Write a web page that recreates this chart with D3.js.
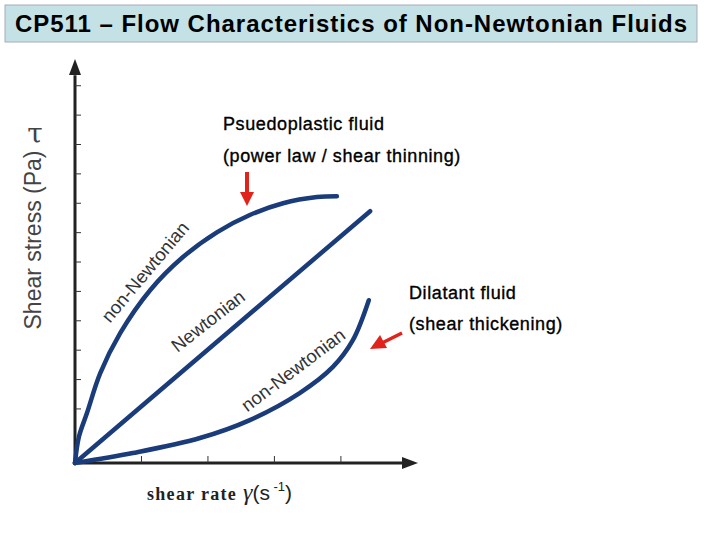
<!DOCTYPE html>
<html><head><meta charset="utf-8">
<script src="https://cdn.jsdelivr.net/npm/d3@7"></script>
<style>body{margin:0;background:#fff}svg{display:block}</style>
</head><body><svg id="c" width="720" height="540"></svg>
<script>
const pseudoplastic = [[0,0],[0.06,0.9],[0.18,1.7],[0.38,3.06],[0.68,4.42],[1.13,5.88],[1.62,7.0],[2.14,7.86],[2.63,8.44],[3.13,8.84],[3.64,9.05],[3.94,9.08]];
const newtonian = [[0,0],[4.44,8.57]];
const dilatant = [[0,0],[0.87,0.34],[1.88,0.85],[2.63,1.46],[3.38,2.38],[3.88,3.27],[4.18,4.18],[4.42,5.54]];
const xTicks = [1,2,3,4];
const yTicks = [1.84,2.84,3.84,4.84,5.84,6.84,7.84,8.84,9.84,10.84,11.84,12.84];

const svg = d3.select("#c");
const x = d3.scaleLinear().domain([0,5.16]).range([75,418]);
const y = d3.scaleLinear().domain([0,13.75]).range([463,59]);

svg.append("rect").attr("x",5).attr("y",5).attr("width",692).attr("height",37)
  .attr("fill","#c4e1e5").attr("stroke","#aab").attr("stroke-width",1);
svg.append("text").attr("x",351).attr("y",32).attr("text-anchor","middle")
  .attr("font-family","Liberation Sans, Arial").attr("font-weight","bold").attr("font-size",24)
  .attr("textLength",672).text("CP511 – Flow Characteristics of Non-Newtonian Fluids");

const ax = svg.append("g").attr("stroke","#222").attr("stroke-width",3);
ax.append("line").attr("x1",x(0)).attr("y1",y(0)).attr("x2",x(5.0)).attr("y2",y(0));
ax.append("line").attr("x1",x(0)).attr("y1",y(0)).attr("x2",x(0)).attr("y2",y(13.2));
svg.append("path").attr("d",`M${x(5.16)},${y(0)} l-16,-6 l0,12 z`).attr("fill","#222");
svg.append("path").attr("d",`M${x(0)},${y(13.75)} l-6,16 l12,0 z`).attr("fill","#222");
svg.selectAll(".xt").data(xTicks).join("line").attr("x1",d=>x(d)).attr("x2",d=>x(d))
  .attr("y1",y(0)).attr("y2",y(0)-7).attr("stroke","#333").attr("stroke-width",1);
svg.selectAll(".yt").data(yTicks).join("line").attr("y1",d=>y(d)).attr("y2",d=>y(d))
  .attr("x1",x(0)).attr("x2",x(0)+6).attr("stroke","#333").attr("stroke-width",1);

const line = d3.line().x(d=>x(d[0])).y(d=>y(d[1])).curve(d3.curveCatmullRom);
[pseudoplastic,newtonian,dilatant].forEach(s=>svg.append("path").attr("d",line(s))
  .attr("fill","none").attr("stroke","#1a3c7a").attr("stroke-width",4.5).attr("stroke-linecap","round"));

const lab = (t,px,py,a,fs)=>svg.append("text").attr("transform",`translate(${px},${py}) rotate(${a})`)
  .attr("text-anchor","middle").attr("font-family","Liberation Sans, Arial").attr("font-size",fs||18.5)
  .attr("fill","#333").text(t);
lab("non-Newtonian",150,276,-50);
lab("Newtonian",212,326,-38);
lab("non-Newtonian",297,375,-37);

svg.append("text").attr("transform","translate(41,240) rotate(-90)").attr("text-anchor","middle")
  .attr("font-family","Liberation Sans, Arial").attr("font-size",23).attr("fill","#444").text("Shear stress (Pa)");
svg.append("text").attr("x",35).attr("y",143).attr("text-anchor","middle")
  .attr("font-family","DejaVu Serif").attr("font-size",28).attr("fill","#444").text("τ");
const xl = svg.append("text").attr("x",147).attr("y",500).attr("font-size",18).attr("fill","#222");
xl.append("tspan").attr("font-family","Liberation Serif").attr("font-weight","bold").attr("letter-spacing",1.3).text("shear rate ");
xl.append("tspan").attr("font-family","Liberation Serif").attr("font-style","italic").attr("font-size",24).text("γ");
xl.append("tspan").attr("font-family","Liberation Sans").attr("font-size",21).text("(s");
xl.append("tspan").attr("font-family","Liberation Sans").attr("font-size",13).attr("dy",-9).text(" -1");
xl.append("tspan").attr("font-family","Liberation Sans").attr("font-size",21).attr("dy",9).text(")");

const ann = (t,px,py)=>svg.append("text").attr("x",px).attr("y",py).attr("font-family","Liberation Sans, Arial")
  .attr("font-size",18).attr("letter-spacing",0.6).attr("fill","#000").attr("stroke","#000").attr("stroke-width",0.35).text(t);
ann("Psuedoplastic fluid",223,130); ann("(power law / shear thinning)",223,162);
ann("Dilatant fluid",409,299); ann("(shear thickening)",409,330);

const red="#e0241c";
svg.append("line").attr("x1",247).attr("y1",172).attr("x2",247).attr("y2",194).attr("stroke",red).attr("stroke-width",4);
svg.append("path").attr("d","M240,192 L254,192 L247,206 Z").attr("fill",red);
svg.append("line").attr("x1",402).attr("y1",333).attr("x2",382).attr("y2",343).attr("stroke",red).attr("stroke-width",3.5);
svg.append("path").attr("d","M370,349 L380,335 L387,348 Z").attr("fill",red);
</script></body></html>
